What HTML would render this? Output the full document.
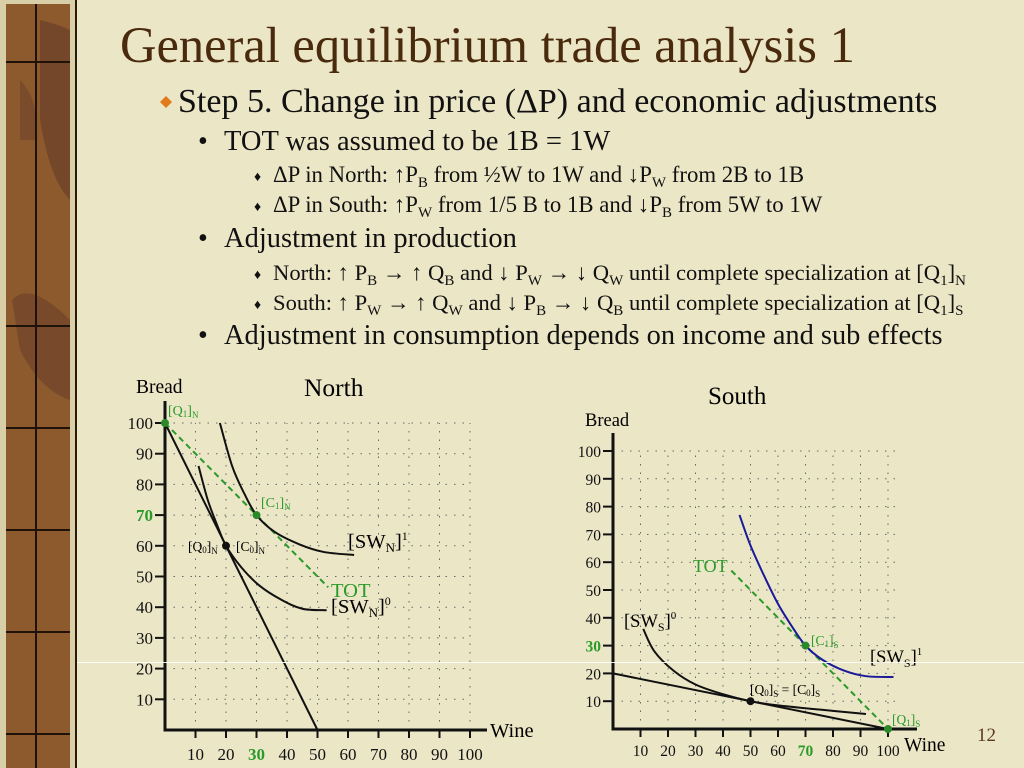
<!DOCTYPE html>
<html><head><meta charset="utf-8"><style>
html,body{margin:0;padding:0;width:1024px;height:768px;overflow:hidden;background:#ece7c8;}
svg{display:block;font-family:"Liberation Serif",serif;}
</style></head><body>
<svg id="s" width="1024" height="768" viewBox="0 0 1024 768" xmlns="http://www.w3.org/2000/svg">
<rect width="1024" height="768" fill="#ebe6c6"/>
<g>
<rect x="0" y="0" width="77" height="768" fill="#d8cfa8"/>
<rect x="6" y="4" width="64" height="764" fill="#8c5a2c"/>
<path d="M40 20 Q60 25 70 30 L70 200 Q50 180 40 120 Z" fill="#6a3e2a" opacity="0.7"/>
<path d="M12 300 Q30 280 70 320 L70 400 Q40 390 20 350 Z" fill="#6a3e2a" opacity="0.6"/>
<path d="M20 80 Q40 100 36 140 L20 140 Z" fill="#6a3e2a" opacity="0.5"/>
<rect x="75" y="0" width="2" height="768" fill="#2a1a0a"/>
<rect x="35" y="4" width="2" height="764" fill="#1e120a"/>
<g fill="#1e120a"><rect x="6" y="61" width="64" height="2"/><rect x="6" y="325" width="64" height="2"/><rect x="6" y="427" width="64" height="2"/><rect x="6" y="529" width="64" height="2"/><rect x="6" y="631" width="64" height="2"/><rect x="6" y="733" width="64" height="2"/></g>
</g>
<text x="120" y="62" font-size="50.5" fill="#4a2a0c">General equilibrium trade analysis 1</text>
<g fill="#111">
<path d="M166 96 L172 102 L166 108 L160 102 Z" fill="#e07a1a"/>
<text x="178" y="112" font-size="34">Step 5. Change in price (ΔP) and economic adjustments</text>
<text x="198" y="150" font-size="28">•</text>
<text x="224" y="150" font-size="28.5">TOT was assumed to be 1B = 1W</text>
<text x="254" y="181" font-size="14">♦</text>
<text x="273" y="182" font-size="22.8">ΔP in North: ↑P<tspan font-size="15" dy="5">B</tspan><tspan dy="-5"> from ½W to 1W and ↓P</tspan><tspan font-size="15" dy="5">W</tspan><tspan dy="-5"> from 2B to 1B</tspan></text>
<text x="254" y="211" font-size="14">♦</text>
<text x="273" y="212" font-size="22.8">ΔP in South: ↑P<tspan font-size="15" dy="5">W</tspan><tspan dy="-5"> from 1/5 B to 1B and ↓P</tspan><tspan font-size="15" dy="5">B</tspan><tspan dy="-5"> from 5W to 1W</tspan></text>
<text x="198" y="247" font-size="28">•</text>
<text x="224" y="247" font-size="28.5">Adjustment in production</text>
<text x="254" y="279" font-size="14">♦</text>
<text x="273" y="280" font-size="22.6">North: ↑ P<tspan font-size="15" dy="5">B</tspan><tspan dy="-5"> → ↑ Q</tspan><tspan font-size="15" dy="5">B</tspan><tspan dy="-5"> and ↓ P</tspan><tspan font-size="15" dy="5">W</tspan><tspan dy="-5"> → ↓ Q</tspan><tspan font-size="15" dy="5">W</tspan><tspan dy="-5"> until complete specialization at [Q</tspan><tspan font-size="15" dy="5">1</tspan><tspan dy="-5">]</tspan><tspan font-size="15" dy="5">N</tspan></text>
<text x="254" y="309" font-size="14">♦</text>
<text x="273" y="310" font-size="22.6">South: ↑ P<tspan font-size="15" dy="5">W</tspan><tspan dy="-5"> → ↑ Q</tspan><tspan font-size="15" dy="5">W</tspan><tspan dy="-5"> and ↓ P</tspan><tspan font-size="15" dy="5">B</tspan><tspan dy="-5"> → ↓ Q</tspan><tspan font-size="15" dy="5">B</tspan><tspan dy="-5"> until complete specialization at [Q</tspan><tspan font-size="15" dy="5">1</tspan><tspan dy="-5">]</tspan><tspan font-size="15" dy="5">S</tspan></text>
<text x="198" y="344" font-size="28">•</text>
<text x="224" y="344" font-size="28.4">Adjustment in consumption depends on income and sub effects</text>
</g>
<g id="north"></g>
<g id="south"></g>
<g font-size="20.5">
<text x="136" y="393" font-size="19.5">Bread</text>
<text x="304" y="396" font-size="25.5">North</text>
<text x="168" y="415" font-size="14" fill="#2a9a2a">[Q<tspan font-size="9" dy="2">1</tspan><tspan dy="-2">]</tspan><tspan font-size="9" dy="3">N</tspan></text>
<text x="261" y="507" font-size="14" fill="#2a9a2a">[C<tspan font-size="9" dy="2">1</tspan><tspan dy="-2">]</tspan><tspan font-size="9" dy="3">N</tspan></text>
<text x="348" y="548">[SW<tspan font-size="13" dy="4">N</tspan><tspan dy="-4">]</tspan><tspan font-size="12" dy="-8">1</tspan></text>
<text x="188" y="551" font-size="13.5">[Q<tspan font-size="9" dy="2">0</tspan><tspan dy="-2">]</tspan><tspan font-size="9" dy="3">N</tspan></text>
<text x="236" y="551" font-size="13.5">[C<tspan font-size="9" dy="2">0</tspan><tspan dy="-2">]</tspan><tspan font-size="9" dy="3">N</tspan></text>
<text x="331" y="597" fill="#2a9a2a">TOT</text>
<text x="331" y="613">[SW<tspan font-size="13" dy="4">N</tspan><tspan dy="-4">]</tspan><tspan font-size="12" dy="-8">0</tspan></text>
<text x="490" y="737">Wine</text>
<text x="708" y="404" font-size="25">South</text>
<text x="585" y="426" font-size="18.5">Bread</text>
<text x="693" y="572" font-size="18" fill="#2a9a2a">TOT</text>
<text x="624" y="627" font-size="18.5">[SW<tspan font-size="12" dy="4">S</tspan><tspan dy="-4">]</tspan><tspan font-size="11" dy="-8">0</tspan></text>
<text x="811" y="645" font-size="13.5" fill="#2a9a2a">[C<tspan font-size="9" dy="2">1</tspan><tspan dy="-2">]</tspan><tspan font-size="9" dy="3">S</tspan></text>
<text x="870" y="663" font-size="18.5">[SW<tspan font-size="12" dy="4">S</tspan><tspan dy="-4">]</tspan><tspan font-size="11" dy="-8">1</tspan></text>
<text x="750" y="694" font-size="13.5">[Q<tspan font-size="9" dy="2">0</tspan><tspan dy="-2">]</tspan><tspan font-size="9" dy="3">S</tspan><tspan dy="-3"> = [C</tspan><tspan font-size="9" dy="2">0</tspan><tspan dy="-2">]</tspan><tspan font-size="9" dy="3">S</tspan></text>
<text x="892" y="724" font-size="13.5" fill="#2a9a2a">[Q<tspan font-size="9" dy="2">1</tspan><tspan dy="-2">]</tspan><tspan font-size="9" dy="3">S</tspan></text>
<text x="904" y="751" font-size="19.5">Wine</text>
<text x="977" y="741" font-size="19" fill="#5a3a1a">12</text>
</g>
<rect x="77" y="662" width="947" height="1" fill="#ffffff" opacity="0.9"/>
</svg>
<script>
var ticks=[10,20,30,40,50,60,70,80,90,100];
var nPPF=[[0,100],[50,0]];
var nTOT=[[0,100],[53.5,46.5]];
var nSW1=[[18,100],[22,86],[26,77],[30,70],[36,64.5],[44,60.5],[52,58],[62,57]];
var nSW0=[[11,86],[14,75],[17,67],[20,60],[25,53],[31,47],[38,42.5],[45,39.5],[53,39]];
var nPts=[[0,100,"#2a8a2a"],[30,70,"#2a8a2a"],[20,60,"#111"]];
var sPPF=[[0,20],[100,0]];
var sTOT=[[43,57],[100,0]];
var sSW1=[[46,77],[50,66],[55,55],[60,45],[65,37],[70,30],[76,25],[84,21],[92,19],[102,18.7]];
var sSW0=[[11,36],[15,28],[22,21],[30,16],[40,12.5],[50,10],[60,8.5],[75,7],[92,5.4]];
var sPts=[[50,10,"#111"],[70,30,"#2a8a2a"],[100,0,"#2a8a2a"]];
var NS="http://www.w3.org/2000/svg";
function el(p,t,a){var e=document.createElementNS(NS,t);for(var k in a)e.setAttribute(k,a[k]);p.appendChild(e);return e;}
function smooth(pts,X,Y){var P=pts.map(function(p){return [X(p[0]),Y(p[1])];});var d="M"+P[0][0]+" "+P[0][1];
for(var i=0;i<P.length-1;i++){var p0=P[i-1]||P[i],p1=P[i],p2=P[i+1],p3=P[i+2]||p2;
d+=" C"+(p1[0]+(p2[0]-p0[0])/6)+" "+(p1[1]+(p2[1]-p0[1])/6)+" "+(p2[0]-(p3[0]-p1[0])/6)+" "+(p2[1]-(p3[1]-p1[1])/6)+" "+p2[0]+" "+p2[1];}return d;}
function chart(g,X,Y,o){
  ticks.forEach(function(t){
    var h=el(g,'line',{x1:X(0),x2:X(o.gx),y1:Y(t),y2:Y(t),stroke:'#666','stroke-width':1,'stroke-dasharray':'1.5 7'});
    
    
    var v=el(g,'line',{x1:X(t),x2:X(t),y1:Y(0),y2:Y(100),stroke:'#666','stroke-width':1,'stroke-dasharray':'1.5 7'});
    
    
    var tk=el(g,'line',{x1:X(0)-10,x2:X(0),y1:Y(t),y2:Y(t),stroke:'#111','stroke-width':2});
    
    
    var tx=el(g,'line',{x1:X(t),x2:X(t),y1:Y(0),y2:Y(0)+8,stroke:'#111','stroke-width':2});
    
    
    var hl=(t===o.hy);
    var yl=el(g,'text',{x:X(0)-12,y:Y(t)+6,'font-size':o.fs,'text-anchor':'end',fill:hl?'#2a9a2a':'#111','font-weight':hl?'bold':'normal'});
    yl.textContent=t;
    
    
    var hx=(t===o.hx);
    var xl=el(g,'text',{x:X(t),y:o.xly,'font-size':o.fs,'text-anchor':'middle',fill:hx?'#2a9a2a':'#111','font-weight':hx?'bold':'normal'});
    xl.textContent=t;
    
    
  });
  var ya=el(g,'line',{x1:X(0),x2:X(0),y1:o.top,y2:Y(0)+1.5,stroke:'#111','stroke-width':3});
  
  
  var xa=el(g,'line',{x1:X(0)-1.5,x2:o.right,y1:Y(0),y2:Y(0),stroke:'#111','stroke-width':3});
  
  
  var ppf=el(g,'path',{d:smooth(o.ppf,X,Y),fill:'none',stroke:'#111','stroke-width':2});
  
  
  var tot=el(g,'path',{d:smooth(o.tot,X,Y),fill:'none',stroke:'#2a9a2a','stroke-width':2,'stroke-dasharray':'6 4'});
  
  
  var c0=el(g,'path',{d:smooth(o.sw0,X,Y),fill:'none',stroke:'#111','stroke-width':2});
  
  
  var c1=el(g,'path',{d:smooth(o.sw1,X,Y),fill:'none',stroke:o.c1,'stroke-width':2});
  
  
  o.pts.forEach(function(p){var c=el(g,'circle',{cx:X(p[0]),cy:Y(p[1]),r:4,fill:p[2]});
    
    });
}
chart(document.getElementById('north'),function(v){return 165+v*3.05;},function(v){return 730-v*3.07;},
 {gx:100,hy:70,hx:30,xly:760,fs:17,top:401,right:487,ppf:nPPF,tot:nTOT,sw0:nSW0,sw1:nSW1,c1:'#111',pts:nPts});
chart(document.getElementById('south'),function(v){return 613+v*2.75;},function(v){return 729-v*2.78;},
 {gx:103,hy:30,hx:70,xly:756,fs:15.5,top:433,right:917,ppf:sPPF,tot:sTOT,sw0:sSW0,sw1:sSW1,c1:'#1a1a9a',pts:sPts});
</script>
</body></html>
